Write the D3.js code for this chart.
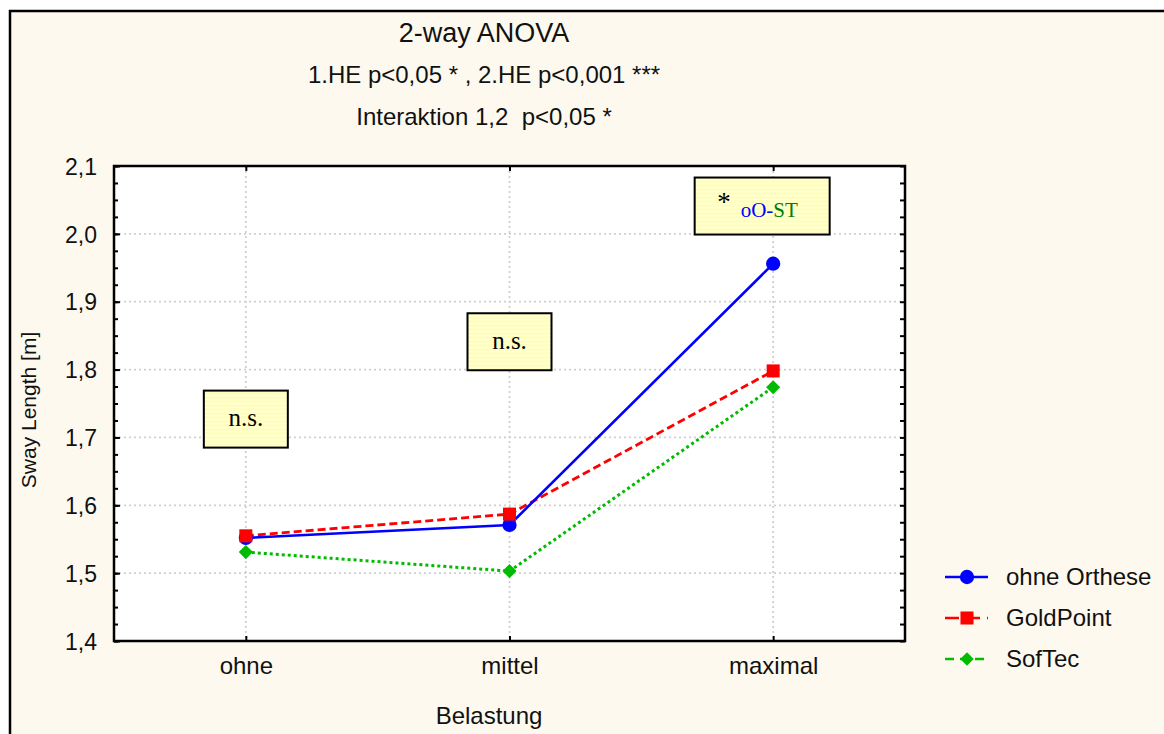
<!DOCTYPE html>
<html>
<head>
<meta charset="utf-8">
<script src="https://cdn.jsdelivr.net/npm/d3@7"></script>
<style>
  html, body { margin: 0; padding: 0; background: #ffffff; }
  svg { display: block; }
  text { font-family: Arial, "Liberation Sans", sans-serif; fill: #111; white-space: pre; }
</style>
</head>
<body>
<svg id="chart" width="1164" height="734"></svg>
<script>
// Categories on the x axis (load level)
const categories = ["ohne", "mittel", "maximal"];
// Series names
const seriesNames = ["ohne Orthese", "GoldPoint", "SofTec"];
// Sway length [m] per series
const ohneOrthese = [1.552, 1.571, 1.956];
const goldPoint   = [1.555, 1.587, 1.798];
const sofTec      = [1.531, 1.503, 1.774];
// Y axis tick values and labels
const yTicks = [1.4, 1.5, 1.6, 1.7, 1.8, 1.9, 2.0, 2.1];
const yTickLabels = ["1,4", "1,5", "1,6", "1,7", "1,8", "1,9", "2,0", "2,1"];
// Title lines
const titleLines = ["2-way ANOVA", "1.HE p<0,05 * , 2.HE p<0,001 ***", "Interaktion 1,2  p<0,05 *"];
// Significance annotations: category and value the box is centred on
const notes = [
  { cat: "ohne",    y: 1.727, parts: [{ t: "n.s.", c: "#000" }] },
  { cat: "mittel",  y: 1.841, parts: [{ t: "n.s.", c: "#000" }] },
  { cat: "maximal", y: 2.041, parts: [{ t: "*", c: "#000", star: true }, { t: "oO-", c: "#0000ff" }, { t: "ST", c: "#008000" }] }
];

const svg = d3.select("#chart");
const W = 1164, H = 734;
const plot = { left: 114, right: 905, top: 166, bottom: 641 };
const SANS = "Arial, 'Liberation Sans', sans-serif";
const SERIF = "'Liberation Serif', 'Times New Roman', serif";

// Outer panel
svg.append("rect").attr("x", 10).attr("y", 11).attr("width", W + 20).attr("height", H + 20)
  .attr("fill", "#fef9ef").attr("stroke", "#000").attr("stroke-width", 2.5);

// Stripe pattern for note boxes
const defs = svg.append("defs");
const pat = defs.append("pattern").attr("id", "stripes").attr("patternUnits", "userSpaceOnUse")
  .attr("width", 8).attr("height", 4);
pat.append("rect").attr("width", 8).attr("height", 4).attr("fill", "#fdfdc4");
pat.append("rect").attr("y", 3).attr("width", 8).attr("height", 1).attr("fill", "#ffffee");

const x = d3.scalePoint().domain(categories).range([plot.left, plot.right]).padding(0.5);
const y = d3.scaleLinear().domain([1.4, 2.1]).range([plot.bottom, plot.top]);

// Plot background
svg.append("rect").attr("x", plot.left).attr("y", plot.top)
  .attr("width", plot.right - plot.left).attr("height", plot.bottom - plot.top).attr("fill", "#fff");

// Grid
const grid = svg.append("g").attr("stroke", "#cfcfcf").attr("stroke-width", 1.8).attr("stroke-dasharray", "2,3");
grid.selectAll(".gy").data(yTicks.slice(1, -1)).join("line")
  .attr("x1", plot.left).attr("x2", plot.right).attr("y1", d => y(d)).attr("y2", d => y(d));
grid.selectAll(".gx").data(categories).join("line")
  .attr("x1", d => x(d)).attr("x2", d => x(d)).attr("y1", plot.top).attr("y2", plot.bottom);

// Y axis (left) with labels, major and minor ticks
const fmt = v => yTickLabels[yTicks.findIndex(t => Math.abs(t - v) < 1e-9)];
const minor = d3.range(1.4, 2.1001, 0.025);
const yLeft = svg.append("g").attr("transform", `translate(${plot.left},0)`)
  .call(d3.axisRight(y).tickValues(minor).tickSize(4).tickFormat(""));
yLeft.select(".domain").remove();
yLeft.selectAll("line").attr("stroke", "#000").attr("stroke-width", 2);
const yLeftMajor = svg.append("g").attr("transform", `translate(${plot.left},0)`)
  .call(d3.axisLeft(y).tickValues(yTicks).tickSize(0).tickPadding(17).tickFormat(fmt));
yLeftMajor.select(".domain").remove();
yLeftMajor.selectAll("text").attr("font-size", 23).attr("font-family", SANS).attr("fill", "#111").attr("dy", "0.36em");
svg.append("g").attr("transform", `translate(${plot.left},0)`)
  .call(d3.axisRight(y).tickValues(yTicks).tickSize(6).tickFormat(""))
  .call(g => g.select(".domain").remove())
  .selectAll("line").attr("stroke", "#000").attr("stroke-width", 2);

// Y axis (right) ticks only
const yRight = svg.append("g").attr("transform", `translate(${plot.right},0)`)
  .call(d3.axisLeft(y).tickValues(minor).tickSize(5).tickFormat(""));
yRight.select(".domain").remove();
yRight.selectAll("line").attr("stroke", "#000").attr("stroke-width", 2);

// X axis bottom with labels
const xBottom = svg.append("g").attr("transform", `translate(0,${plot.bottom})`)
  .call(d3.axisTop(x).tickSize(5).tickFormat(""));
xBottom.select(".domain").remove();
xBottom.selectAll("line").attr("stroke", "#000").attr("stroke-width", 2);
const xLabels = svg.append("g").attr("transform", `translate(0,${plot.bottom})`)
  .call(d3.axisBottom(x).tickSize(0).tickPadding(0));
xLabels.select(".domain").remove();
xLabels.selectAll("text").attr("font-size", 24).attr("font-family", SANS).attr("fill", "#111")
  .attr("dy", null).attr("y", 33);
// X axis top ticks
const xTop = svg.append("g").attr("transform", `translate(0,${plot.top})`)
  .call(d3.axisBottom(x).tickSize(5).tickFormat(""));
xTop.select(".domain").remove();
xTop.selectAll("line").attr("stroke", "#000").attr("stroke-width", 2);

// Plot frame
svg.append("rect").attr("x", plot.left).attr("y", plot.top)
  .attr("width", plot.right - plot.left).attr("height", plot.bottom - plot.top)
  .attr("fill", "none").attr("stroke", "#000").attr("stroke-width", 2.5);

// Annotation boxes
notes.forEach(n => {
  const multi = n.parts.length > 1;
  const w = multi ? 135 : 84, h = 57;
  const cx = x(n.cat) + (multi ? -11 : 0), cy = y(n.y);
  svg.append("rect").attr("x", cx - w / 2).attr("y", cy - h / 2).attr("width", w).attr("height", h)
    .attr("fill", "url(#stripes)").attr("stroke", "#000").attr("stroke-width", 2);
  const t = svg.append("text")
    .attr("x", multi ? cx - 45 : cx).attr("y", cy + 7)
    .attr("text-anchor", multi ? "start" : "middle")
    .style("font-family", SERIF);
  n.parts.forEach(p => {
    const ts = t.append("tspan").text(p.t).style("fill", p.c).style("font-family", SERIF)
      .attr("font-size", multi ? 21 : 25);
    if (p.star) ts.attr("font-size", 27).attr("dy", -2);
    else if (multi && p.t === "oO-") ts.attr("dy", 6).attr("dx", 10);
  });
});

// Series
const diamond = d3.symbol().type(d3.symbolSquare).size(100);
const series = [
  { name: seriesNames[0], values: ohneOrthese, color: "#0000ff", dash: null, width: 2.6, sym: d3.symbol().type(d3.symbolCircle).size(160), rot: 0 },
  { name: seriesNames[1], values: goldPoint,   color: "#ff0000", dash: "8,4", width: 2.8, sym: d3.symbol().type(d3.symbolSquare).size(170), rot: 0 },
  { name: seriesNames[2], values: sofTec,      color: "#00bb00", dash: "3,3", width: 3, sym: diamond, rot: 45 }
];
const legendDash = [null, "14,7", "9,6"];
const line = d3.line().x((d, i) => x(categories[i])).y(d => y(d));
// Draw lines (green first so blue ends up on top)
[2, 1, 0].forEach(k => {
  const s = series[k];
  svg.append("path").datum(s.values).attr("d", line).attr("fill", "none")
    .attr("stroke", s.color).attr("stroke-width", s.width).attr("stroke-dasharray", s.dash);
});
[2, 0, 1].forEach(k => {
  const s = series[k];
  svg.append("g").selectAll("path").data(s.values).join("path")
    .attr("transform", (d, i) => `translate(${x(categories[i])},${y(d)}) rotate(${s.rot})`)
    .attr("d", s.sym).attr("fill", s.color);
});

// Titles
titleLines.forEach((t, i) => {
  svg.append("text").attr("x", 484).attr("y", [42, 83, 125][i]).attr("text-anchor", "middle")
    .attr("font-size", i === 0 ? 27 : 24).text(t);
});

// Axis titles
svg.append("text").attr("x", 489).attr("y", 724).attr("text-anchor", "middle").attr("font-size", 24).text("Belastung");
svg.append("text").attr("transform", `translate(36,410) rotate(-90)`)
  .attr("text-anchor", "middle").attr("font-size", 21).text("Sway Length [m]");

// Legend
const legend = svg.append("g").attr("transform", "translate(945,577)");
series.forEach((s, i) => {
  const g = legend.append("g").attr("transform", `translate(0,${i * 41})`);
  g.append("line").attr("x1", 0).attr("x2", 43).attr("stroke", s.color).attr("stroke-width", 2.4)
    .attr("stroke-dasharray", legendDash[i]);
  g.append("path").attr("transform", `translate(22,0) rotate(${s.rot})`)
    .attr("d", i === 2 ? d3.symbol().type(d3.symbolSquare).size(90) : s.sym).attr("fill", s.color);
  g.append("text").attr("x", 61).attr("y", 8).attr("font-size", 24).text(s.name);
});
</script>
</body>
</html>
